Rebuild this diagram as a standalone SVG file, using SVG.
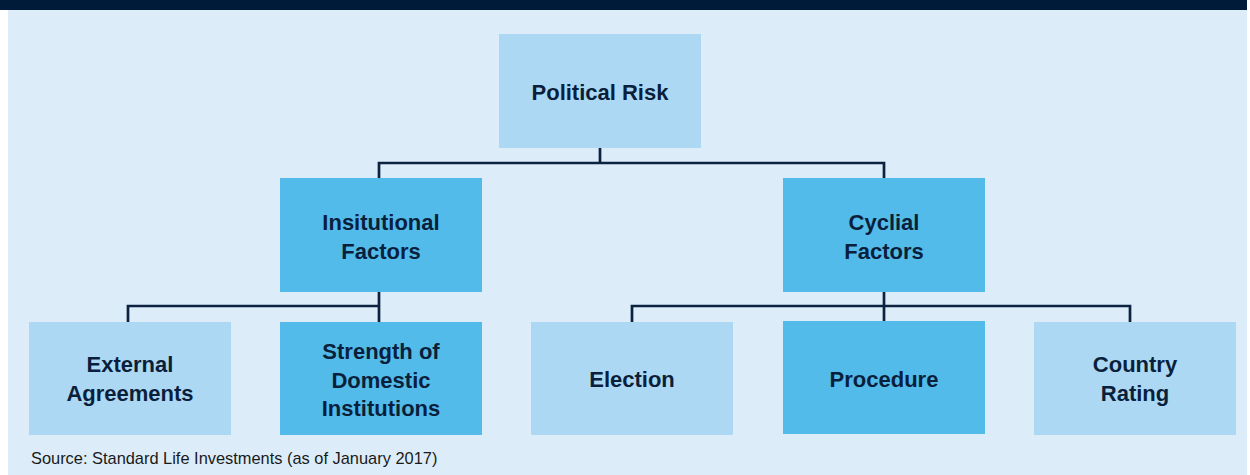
<svg xmlns="http://www.w3.org/2000/svg" width="1250" height="475" viewBox="0 0 1250 475">
  <style>
    .bg { fill: #DCEDF9; }
    .light { fill: #ADD8F3; }
    .mid { fill: #52BBEA; }
    .lbl { font-family: "Liberation Sans", Arial, sans-serif; font-weight: bold; font-size: 22px; fill: #0A1F3C; text-anchor: middle; }
    .src { font-family: "Liberation Sans", Arial, sans-serif; font-size: 16.4px; fill: #1A1A1A; }
    .conn { fill: none; stroke: #0B2340; stroke-width: 2.7; stroke-linejoin: miter; }
  </style>
  <rect x="0" y="0" width="1250" height="475" fill="#FFFFFF"/>
  <rect x="8" y="10" width="1239" height="465" class="bg"/>
  <rect x="0" y="0" width="1247" height="10" fill="#001A3A"/>

  <g id="connectors">
    <path class="conn" d="M600,148 V163 M379,178 V163 H884 V178"/>
    <path class="conn" d="M379,292 V322 M128,322 V306 H379"/>
    <path class="conn" d="M884,292 V322 M632,322 V306 H1130 V322"/>
  </g>

  <g id="political-risk">
    <rect x="499" y="34" width="202" height="114" class="light"/>
    <text x="600" y="100" class="lbl">Political Risk</text>
  </g>
  <g id="insitutional-factors">
    <rect x="280" y="178" width="202" height="114" class="mid"/>
    <text x="381" y="230" class="lbl">Insitutional</text>
    <text x="381" y="259" class="lbl">Factors</text>
  </g>
  <g id="cyclial-factors">
    <rect x="783" y="178" width="202" height="114" class="mid"/>
    <text x="884" y="230" class="lbl">Cyclial</text>
    <text x="884" y="259" class="lbl">Factors</text>
  </g>
  <g id="external-agreements">
    <rect x="29" y="322" width="202" height="113" class="light"/>
    <text x="130" y="372" class="lbl">External</text>
    <text x="130" y="401" class="lbl">Agreements</text>
  </g>
  <g id="strength-domestic-institutions">
    <rect x="280" y="322" width="202" height="113" class="mid"/>
    <text x="381" y="359" class="lbl">Strength of</text>
    <text x="381" y="387.5" class="lbl">Domestic</text>
    <text x="381" y="416" class="lbl">Institutions</text>
  </g>
  <g id="election">
    <rect x="531" y="322" width="202" height="113" class="light"/>
    <text x="632" y="387" class="lbl">Election</text>
  </g>
  <g id="procedure">
    <rect x="783" y="321" width="202" height="113" class="mid"/>
    <text x="884" y="387" class="lbl">Procedure</text>
  </g>
  <g id="country-rating">
    <rect x="1034" y="322" width="202" height="113" class="light"/>
    <text x="1135" y="372" class="lbl">Country</text>
    <text x="1135" y="401" class="lbl">Rating</text>
  </g>

  <text x="31" y="464" class="src">Source: Standard Life Investments (as of January 2017)</text>
</svg>
